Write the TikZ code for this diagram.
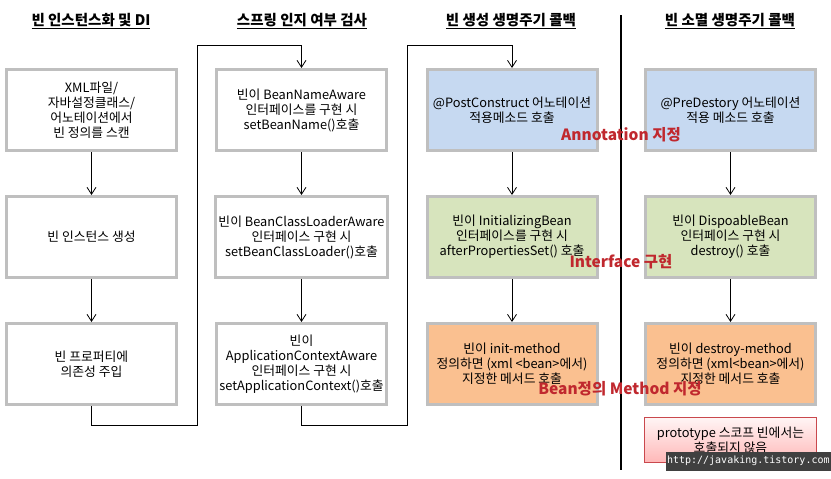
\documentclass[tikz,border=0pt]{standalone}
\usepackage{fontspec}
\setmainfont{Noto Sans CJK KR}
\newfontfamily\urlfont{DejaVu Sans Mono}
\usepackage{xcolor}
\usetikzlibrary{arrows.meta,positioning}
\definecolor{rimgray}{HTML}{BFBFBF}
\definecolor{annblue}{HTML}{C6D9F1}
\definecolor{ifgreen}{HTML}{D7E4BD}
\definecolor{methorange}{HTML}{FAC090}
\definecolor{markred}{HTML}{C0282E}

\begin{document}
\begin{tikzpicture}[x=1pt, y=-1pt, node distance=43pt, line width=0.8pt,
  >={Straight Barb[length=7pt,width=9pt]},
  stage/.style={draw=rimgray, line width=3pt, fill=white, minimum width=170pt,
    minimum height=81pt, align=center, font=\fontsize{12.8}{15}\selectfont},
  coltitle/.style={font=\fontsize{14.5}{16}\selectfont\bfseries},
  markup/.style={font=\fontsize{15.5}{17}\selectfont\bfseries, text=markred},
  flow/.style={->, black}]
\useasboundingbox (0,0) rectangle (831,479);

% column titles
\node[coltitle] (tinst) at (91,21) {\underline{빈 인스턴스화 및 DI}};
\node[coltitle] (taware) at (302,21) {\underline{스프링 인지 여부 검사}};
\node[coltitle] (tinit) at (511,21) {\underline{빈 생성 생명주기 콜백}};
\node[coltitle] (tdestroy) at (730,21) {\underline{빈 소멸 생명주기 콜백}};

% instantiation and DI
\node[stage] (scan) at (91.5,110) {XML파일/\\자바설정클래스/\\어노테이션에서\\빈 정의를 스캔};
\node[stage,below=of scan] (create) {빈 인스턴스 생성};
\node[stage,below=of create] (inject) {빈 프로퍼티에\\의존성 주입};

% aware interfaces
\node[stage] (nameaware) at (301.5,110) {빈이 BeanNameAware\\인터페이스를 구현 시\\setBeanName()호출};
\node[stage,below=of nameaware] (loaderaware) {빈이 BeanClassLoaderAware\\인터페이스 구현 시\\setBeanClassLoader()호출};
\node[stage,below=of loaderaware] (ctxaware) {빈이\\ApplicationContextAware\\인터페이스 구현 시\\setApplicationContext()호출};

% creation callbacks
\node[stage,fill=annblue] (postconstruct) at (512,110) {@PostConstruct 어노테이션\\적용메소드 호출};
\node[stage,fill=ifgreen,below=of postconstruct] (afterprops) {빈이 InitializingBean\\인터페이스를 구현 시\\afterPropertiesSet() 호출};
\node[stage,fill=methorange,below=of afterprops] (initmethod) {빈이 init-method\\정의하면 (xml \textless bean\textgreater 에서)\\지정한 메서드 호출};

% destruction callbacks
\node[stage,fill=annblue] (predestroy) at (730.5,110) {@PreDestory 어노테이션\\적용 메소드 호출};
\node[stage,fill=ifgreen,below=of predestroy] (disposable) {빈이 DispoableBean\\인터페이스 구현 시\\destroy() 호출};
\node[stage,fill=methorange,below=of disposable] (destroymethod) {빈이 destroy-method\\정의하면 (xml\textless bean\textgreater 에서)\\지정한 메서드 호출};

\node[draw=markred!85, line width=0.8pt, top color=red!4, bottom color=red!28,
  minimum width=172pt, minimum height=45pt, align=center,
  font=\fontsize{12.8}{15}\selectfont] (proto) at (730.5,440) {prototype 스코프 빈에서는\\호출되지 않음};

% divider
\coordinate (divtop) at (621,15);
\coordinate (divbot) at (621,470);
\draw[line width=2.2pt] (divtop) -- (divbot);

% flow
\coordinate (lowA) at (197,425);
\coordinate (topA) at (197,45);
\coordinate (lowB) at (407,425);
\coordinate (topB) at (407,45);
\draw[flow] (scan) -- (create);
\draw[flow] (create) -- (inject);
\draw[flow] (inject.south) |- (lowA) -- (topA) -| (nameaware.north);
\draw[flow] (nameaware) -- (loaderaware);
\draw[flow] (loaderaware) -- (ctxaware);
\draw[flow] (ctxaware.south) |- (lowB) -- (topB) -| (postconstruct.north);
\draw[flow] (postconstruct) -- (afterprops);
\draw[flow] (afterprops) -- (initmethod);
\draw[flow] (predestroy) -- (disposable);
\draw[flow] (disposable) -- (destroymethod);

% kind labels
\node[markup] (annot) at (621,135) {Annotation 지정};
\node[markup] (iface) at (621,262) {Interface 구현};
\node[markup] (beandef) at (620,389) {Bean정의 Method 지정};

% watermark
\node[fill=black!75, text=white, anchor=south east, minimum width=160pt,
  minimum height=19pt, inner sep=1pt, font=\urlfont\fontsize{10}{12}\selectfont]
  (url) at (831,471) {http://javaking.tistory.com};
\end{tikzpicture}
\end{document}
